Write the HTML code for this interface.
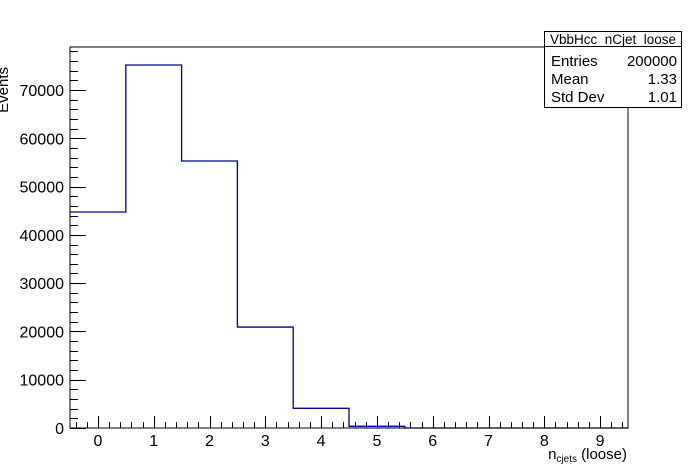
<!DOCTYPE html>
<html><head><meta charset="utf-8"><style>
body{margin:0;background:#fff}
svg{display:block;font-family:"Liberation Sans",Arial,sans-serif}
</style></head><body>
<svg id="c" width="698" height="476">
<rect x="0" y="0" width="698" height="476" fill="#fff"/>
<g id="axes"></g>
<path id="hist" fill="none" stroke="#000099" stroke-width="1.3"/>
<rect x="70" y="47" width="558" height="381" fill="none" stroke="#000" stroke-width="1"/>
<text x="-1" y="58" transform="rotate(-90 8 58)" font-size="15" text-anchor="end">Events</text>
<text x="627" y="459" font-size="15" text-anchor="end">n<tspan font-size="10" dy="3">cjets</tspan><tspan dy="-3"> (loose)</tspan></text>
<g>
<rect x="544.5" y="31.5" width="137" height="76" fill="#fff" stroke="#000"/>
<line x1="544.5" y1="46.5" x2="681.5" y2="46.5" stroke="#000"/>
<text x="613" y="44" font-size="13.5" text-anchor="middle">VbbHcc_nCjet_loose</text>
<text x="551" y="66" font-size="15">Entries</text>
<text x="677" y="66" font-size="15" text-anchor="end">200000</text>
<text x="551" y="84" font-size="15">Mean</text>
<text x="677" y="84" font-size="15" text-anchor="end">1.33</text>
<text x="551" y="102" font-size="15">Std Dev</text>
<text x="677" y="102" font-size="15" text-anchor="end">1.01</text>
</g>
</svg>
<script>
const binCenters=[0,1,2,3,4,5,6,7,8,9];
const binCounts=[44730,75170,55290,20900,4080,350,0,0,0,0];
const xTickLabels=["0","1","2","3","4","5","6","7","8","9"];
const yTickLabels=["0","10000","20000","30000","40000","50000","60000","70000"];
const X0=70,X1=628,Y0=428,Y1=47,xmin=-0.5,xmax=9.5,ymin=0,ymax=78900;
const sx=v=>X0+(v-xmin)/(xmax-xmin)*(X1-X0);
const sy=v=>Y0-(v-ymin)/(ymax-ymin)*(Y0-Y1);
const NS="http://www.w3.org/2000/svg";
const ax=document.getElementById('axes');
function ln(x1,y1,x2,y2){const l=document.createElementNS(NS,'line');l.setAttribute('x1',x1);l.setAttribute('y1',y1);l.setAttribute('x2',x2);l.setAttribute('y2',y2);l.setAttribute('stroke','#000');


ax.appendChild(l);}
function tx(x,y,s,anchor,name){const t=document.createElementNS(NS,'text');t.setAttribute('x',x);t.setAttribute('y',y);t.setAttribute('font-size','16');t.setAttribute('text-anchor',anchor);t.textContent=s;


ax.appendChild(t);}
for(let v=-0.4;v<=9.5;v+=0.2){const x=Math.round(sx(v))+0.5;const major=Math.abs(v-Math.round(v))<1e-6;ln(x,Y0,x,Y0-(major?12:6));}
xTickLabels.forEach((s,i)=>tx(sx(+s),Y0+18,s,'middle','x-tick-label'));
for(let v=0;v<=ymax;v+=2000){const y=Math.round(sy(v))+0.5;const major=v%10000===0;ln(X0,y,X0+(major?16:8),y);}
yTickLabels.forEach(s=>tx(64,sy(+s)+6,s,'end','y-tick-label'));
let d='M'+sx(xmin)+','+sy(binCounts[0]);
binCenters.forEach((c,i)=>{const yy=sy(binCounts[i]);d+=' L'+sx(c-0.5)+','+yy+' L'+sx(c+0.5)+','+yy;});
d+=' L'+sx(xmax)+','+sy(0);
document.getElementById('hist').setAttribute('d',d);
</script>
</body></html>
